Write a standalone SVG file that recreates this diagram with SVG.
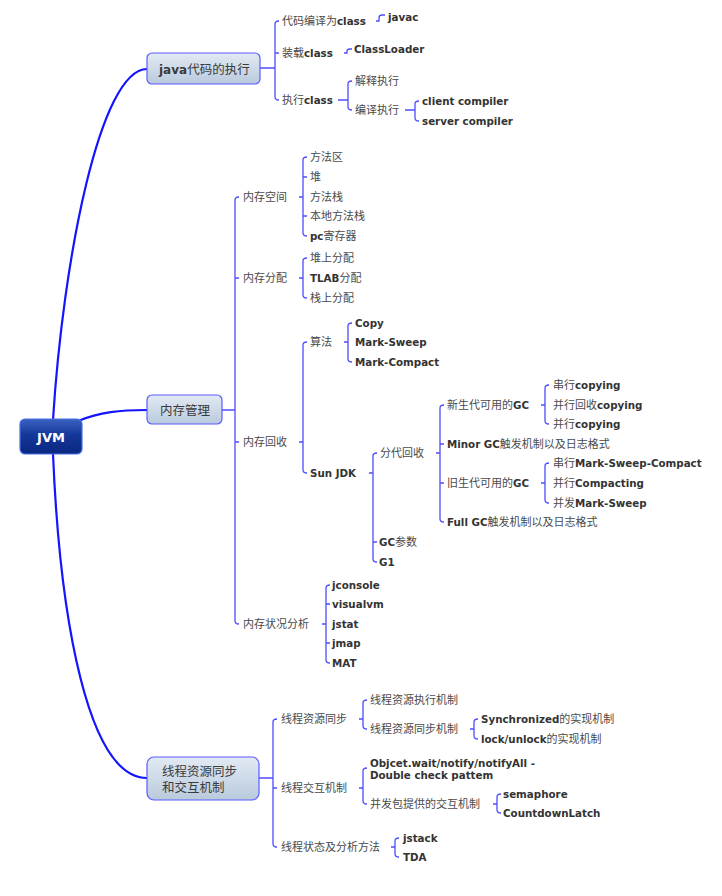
<svg xmlns="http://www.w3.org/2000/svg" width="722" height="896" viewBox="0 0 722 896">
<defs>
<linearGradient id="gl" x1="0" y1="0" x2="0" y2="1">
<stop offset="0" stop-color="#e2eaf3"/>
<stop offset="1" stop-color="#b9cadd"/>
</linearGradient>
<linearGradient id="gd" x1="0" y1="0" x2="0" y2="1">
<stop offset="0" stop-color="#3a62c0"/>
<stop offset="0.45" stop-color="#14389a"/>
<stop offset="1" stop-color="#0a2680"/>
</linearGradient>
</defs>
<style>
.t{font-family:"DejaVu Sans","Noto Sans CJK SC",sans-serif;font-size:11px;fill:#4a4a4a}
.b{font-weight:bold;font-size:10.3px;fill:#333}
.nt{font-family:"DejaVu Sans","Noto Sans CJK SC",sans-serif;font-size:12.5px;fill:#3a3a3a}
.main{fill:none;stroke:#1414ff;stroke-width:2.2;stroke-linecap:round}
.br{fill:none;stroke:#4d4dff;stroke-width:1.3}
.nl{fill:url(#gl);stroke:#5c5cff;stroke-width:1.2}
</style>
<rect width="722" height="896" fill="#ffffff"/>
<g id="connectors">
<path class="main" d="M53 420 C63 260 100 69 147 69"/>
<path class="main" d="M78 421 C100 412 120 410 147 410"/>
<path class="main" d="M53 454 C60 620 88 778 147 778"/>
<!-- java node -->
<path class="br" d="M260 68 H275 M279 21 Q275 21 275 24 V97 Q275 100 279 100 M275 53 H279"/>
<path class="br" d="M376 21 H379 V18 Q379 15 382 15 H385"/>
<path class="br" d="M344 53 H347 V51 Q347 49 350 49 H352"/>
<path class="br" d="M338 100 H348 M352 81 Q348 81 348 84 V107 Q348 110 352 110"/>
<path class="br" d="M405 110 H415 M419 101 Q415 101 415 104 V118 Q415 121 419 121"/>
<!-- memory -->
<path class="br" d="M222 410 H235 M239 197 Q235 197 235 200 V621 Q235 624 239 624 M235 278 H239 M235 442 H239"/>
<path class="br" d="M299 197 H303 M307 157 Q303 157 303 160 V233 Q303 236 307 236 M303 177 H307 M303 216 H307"/>
<path class="br" d="M299 278 H303 M307 258 Q303 258 303 261 V295 Q303 298 307 298"/>
<path class="br" d="M299 442 H303 M307 342 Q303 342 303 345 V470 Q303 473 307 473"/>
<path class="br" d="M344 342 H348 M352 323 Q348 323 348 326 V359 Q348 362 352 362"/>
<path class="br" d="M369 473 H373 M377 453 Q373 453 373 456 V559 Q373 562 377 562 M373 542 H377"/>
<path class="br" d="M436 453 H440 M444 405 Q440 405 440 408 V519 Q440 522 444 522 M440 444 H444 M440 483 H444"/>
<path class="br" d="M541 405 H545 M549 385 Q545 385 545 388 V421 Q545 424 549 424"/>
<path class="br" d="M541 483 H545 M549 463 Q545 463 545 466 V500 Q545 503 549 503"/>
<path class="br" d="M322 624 H326 M330 585 Q326 585 326 588 V660 Q326 663 330 663 M326 604 H330 M326 643 H330"/>
<!-- thread -->
<path class="br" d="M259 778 H273 M277 719 Q273 719 273 722 V844 Q273 847 277 847 M273 788 H277"/>
<path class="br" d="M359 719 H363 M367 700 Q363 700 363 703 V726 Q363 729 367 729"/>
<path class="br" d="M470 729 H474 M478 719 Q474 719 474 722 V736 Q474 739 478 739"/>
<path class="br" d="M359 788 H363 M367 768 Q363 768 363 771 V801 Q363 804 367 804"/>
<path class="br" d="M493 804 H497 M501 794 Q497 794 497 797 V810 Q497 813 501 813"/>
<path class="br" d="M391 847 H395 M399 838 Q395 838 395 841 V854 Q395 857 399 857"/>
</g>
<g id="jvm">
<rect x="20" y="419" width="62" height="35" rx="5" fill="url(#gd)" stroke="#4a6ee8" stroke-width="1.2"/>
<text x="51" y="441.5" text-anchor="middle" font-family="DejaVu Sans,sans-serif" font-size="13" font-weight="bold" fill="#ffffff">JVM</text>
</g>
<g id="java-exec">
<rect class="nl" x="147" y="53" width="113" height="31" rx="5"/>
<text class="nt" x="159" y="73.5"><tspan font-weight="bold" font-size="12">java</tspan>代码的执行</text>
</g>
<g id="mem-mgmt">
<rect class="nl" x="147" y="395" width="75" height="29" rx="5"/>
<text class="nt" x="160" y="414.5">内存管理</text>
</g>
<g id="thread-sync">
<rect class="nl" x="147" y="757" width="112" height="43" rx="7"/>
<text class="nt" x="162" y="775.5">线程资源同步</text>
<text class="nt" x="162" y="791.5">和交互机制</text>
</g>
<g id="java-children" class="t">
<text x="282" y="25">代码编译为<tspan class="b">class</tspan></text>
<text x="388" y="21"><tspan class="b">javac</tspan></text>
<text x="282" y="57">装载<tspan class="b">class</tspan></text>
<text x="354" y="53"><tspan class="b">ClassLoader</tspan></text>
<text x="282" y="104">执行<tspan class="b">class</tspan></text>
<text x="355" y="85">解释执行</text>
<text x="355" y="114">编译执行</text>
<text x="422" y="105"><tspan class="b">client compiler</tspan></text>
<text x="422" y="125"><tspan class="b">server compiler</tspan></text>
</g>
<g id="mem-children" class="t">
<text x="243" y="201">内存空间</text>
<text x="243" y="282">内存分配</text>
<text x="243" y="446">内存回收</text>
<text x="243" y="628">内存状况分析</text>
<text x="310" y="161">方法区</text>
<text x="310" y="181">堆</text>
<text x="310" y="201">方法栈</text>
<text x="310" y="220">本地方法栈</text>
<text x="310" y="240"><tspan class="b">pc</tspan>寄存器</text>
<text x="310" y="262">堆上分配</text>
<text x="310" y="282"><tspan class="b">TLAB</tspan>分配</text>
<text x="310" y="302">栈上分配</text>
<text x="310" y="346">算法</text>
<text x="310" y="477"><tspan class="b">Sun JDK</tspan></text>
<text x="355" y="327"><tspan class="b">Copy</tspan></text>
<text x="355" y="346"><tspan class="b">Mark-Sweep</tspan></text>
<text x="355" y="366"><tspan class="b">Mark-Compact</tspan></text>
<text x="380" y="457">分代回收</text>
<text x="379" y="546"><tspan class="b">GC</tspan>参数</text>
<text x="379" y="566"><tspan class="b">G1</tspan></text>
<text x="447" y="409">新生代可用的<tspan class="b">GC</tspan></text>
<text x="447" y="448"><tspan class="b">Minor GC</tspan>触发机制以及日志格式</text>
<text x="447" y="487">旧生代可用的<tspan class="b">GC</tspan></text>
<text x="447" y="526"><tspan class="b">Full GC</tspan>触发机制以及日志格式</text>
<text x="553" y="389">串行<tspan class="b">copying</tspan></text>
<text x="553" y="409">并行回收<tspan class="b">copying</tspan></text>
<text x="553" y="428">并行<tspan class="b">copying</tspan></text>
<text x="553" y="467">串行<tspan class="b">Mark-Sweep-Compact</tspan></text>
<text x="553" y="487">并行<tspan class="b">Compacting</tspan></text>
<text x="553" y="507">并发<tspan class="b">Mark-Sweep</tspan></text>
<text x="332" y="589"><tspan class="b">jconsole</tspan></text>
<text x="332" y="608"><tspan class="b">visualvm</tspan></text>
<text x="332" y="628"><tspan class="b">jstat</tspan></text>
<text x="332" y="647"><tspan class="b">jmap</tspan></text>
<text x="332" y="667"><tspan class="b">MAT</tspan></text>
</g>
<g id="thread-children" class="t">
<text x="281" y="723">线程资源同步</text>
<text x="281" y="792">线程交互机制</text>
<text x="281" y="851">线程状态及分析方法</text>
<text x="370" y="704">线程资源执行机制</text>
<text x="370" y="733">线程资源同步机制</text>
<text x="481" y="723"><tspan class="b">Synchronized</tspan>的实现机制</text>
<text x="481" y="743"><tspan class="b">lock/unlock</tspan>的实现机制</text>
<text x="370" y="767"><tspan class="b">Objcet.wait/notify/notifyAll -</tspan></text>
<text x="370" y="779"><tspan class="b">Double check pattem</tspan></text>
<text x="370" y="808">并发包提供的交互机制</text>
<text x="503" y="798"><tspan class="b">semaphore</tspan></text>
<text x="503" y="817"><tspan class="b">CountdownLatch</tspan></text>
<text x="403" y="842"><tspan class="b">jstack</tspan></text>
<text x="403" y="861"><tspan class="b">TDA</tspan></text>
</g>
</svg>
